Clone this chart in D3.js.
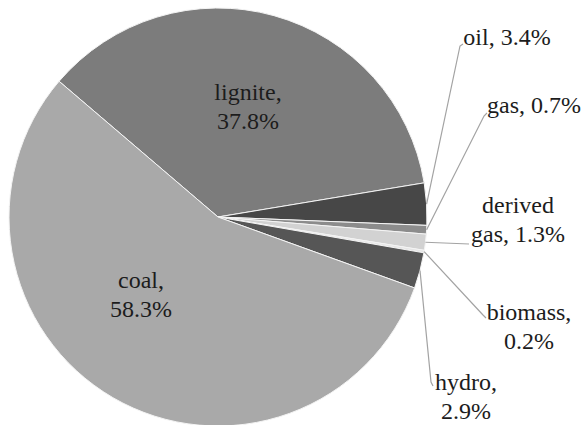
<!DOCTYPE html>
<html>
<head>
<script src="https://cdn.jsdelivr.net/npm/d3@7"></script>
</head>
<body style="margin:0">
<svg id="s" width="584" height="425"></svg>
<script>
// Fuel shares of electricity generation (label values, %)
const categories = ["lignite", "oil", "gas", "derived gas", "biomass", "hydro", "coal"];
const shares     = [37.8, 3.4, 0.7, 1.3, 0.2, 2.9, 58.3];
const fills      = ["#7c7c7c", "#474747", "#8c8c8c", "#d2d2d2", "#e6e6e6", "#565656", "#a9a9a9"];

const cx = 218, cy = 217, R = 209;
const svg = d3.select("#s");

const pie = d3.pie().sort(null).value(d => d)
  .startAngle(-49.5 * Math.PI / 180)
  .endAngle(310.5 * Math.PI / 180);
const arcs = pie(shares);
const arc = d3.arc().innerRadius(0).outerRadius(R);

svg.append("g").attr("transform", `translate(${cx},${cy})`)
  .selectAll("path").data(arcs).enter().append("path")
  .attr("d", arc)
  .attr("fill", (d, i) => fills[i])
  .attr("stroke", "#f4f4f4")
  .attr("stroke-width", 1);

const fmt = v => `${v.toFixed(1)}%`;

// Label layout: x = text centre, y = first baseline (page coordinates)
const layout = {
  "lignite":     { x: 248, y: 100 },
  "coal":        { x: 141, y: 288 },
  "oil":         { x: 507, y: 45,  single: true, elbow: [[460, 46], [463, 44]] },
  "gas":         { x: 534, y: 113, single: true, elbow: [[484, 116], [487, 113]] },
  "derived gas": { x: 518, y: 213, split: ["derived", "gas, 1.3%"], elbow: [[469, 244]] },
  "biomass":     { x: 529, y: 320, elbow: [[483, 315], [486, 318]] },
  "hydro":       { x: 466, y: 390, elbow: [[431, 382], [433, 386]] }
};

// leader lines from each small slice's rim midpoint to its label
const leaders = arcs.map((d, i) => ({ d, name: categories[i] })).filter(o => layout[o.name].elbow);
svg.selectAll("path.leader").data(leaders).enter().append("path")
  .attr("class", "leader")
  .attr("d", o => {
    const mid = (o.d.startAngle + o.d.endAngle) / 2;
    const p = [cx + R * Math.sin(mid), cy - R * Math.cos(mid)];
    return d3.line()([p].concat(layout[o.name].elbow));
  })
  .attr("fill", "none")
  .attr("stroke", "#a3a3a3")
  .attr("stroke-width", 1.2);

// one entry per text line
const lines = [];
categories.forEach((name, i) => {
  const L = layout[name];
  const pct = fmt(shares[i]);
  let rows;
  if (L.split) rows = L.split;
  else if (L.single) rows = [`${name}, ${pct}`];
  else rows = [`${name},`, pct];
  rows.forEach((t, k) => lines.push({ t, x: L.x, y: L.y + 29 * k }));
});

svg.selectAll("text").data(lines).enter().append("text")
  .attr("x", d => d.x).attr("y", d => d.y)
  .attr("text-anchor", "middle")
  .attr("font-size", 24)
  .attr("fill", "#1c1c1c")
  .style("font-family", `"Liberation Serif"`)
  .text(d => d.t);
</script>
</body>
</html>
